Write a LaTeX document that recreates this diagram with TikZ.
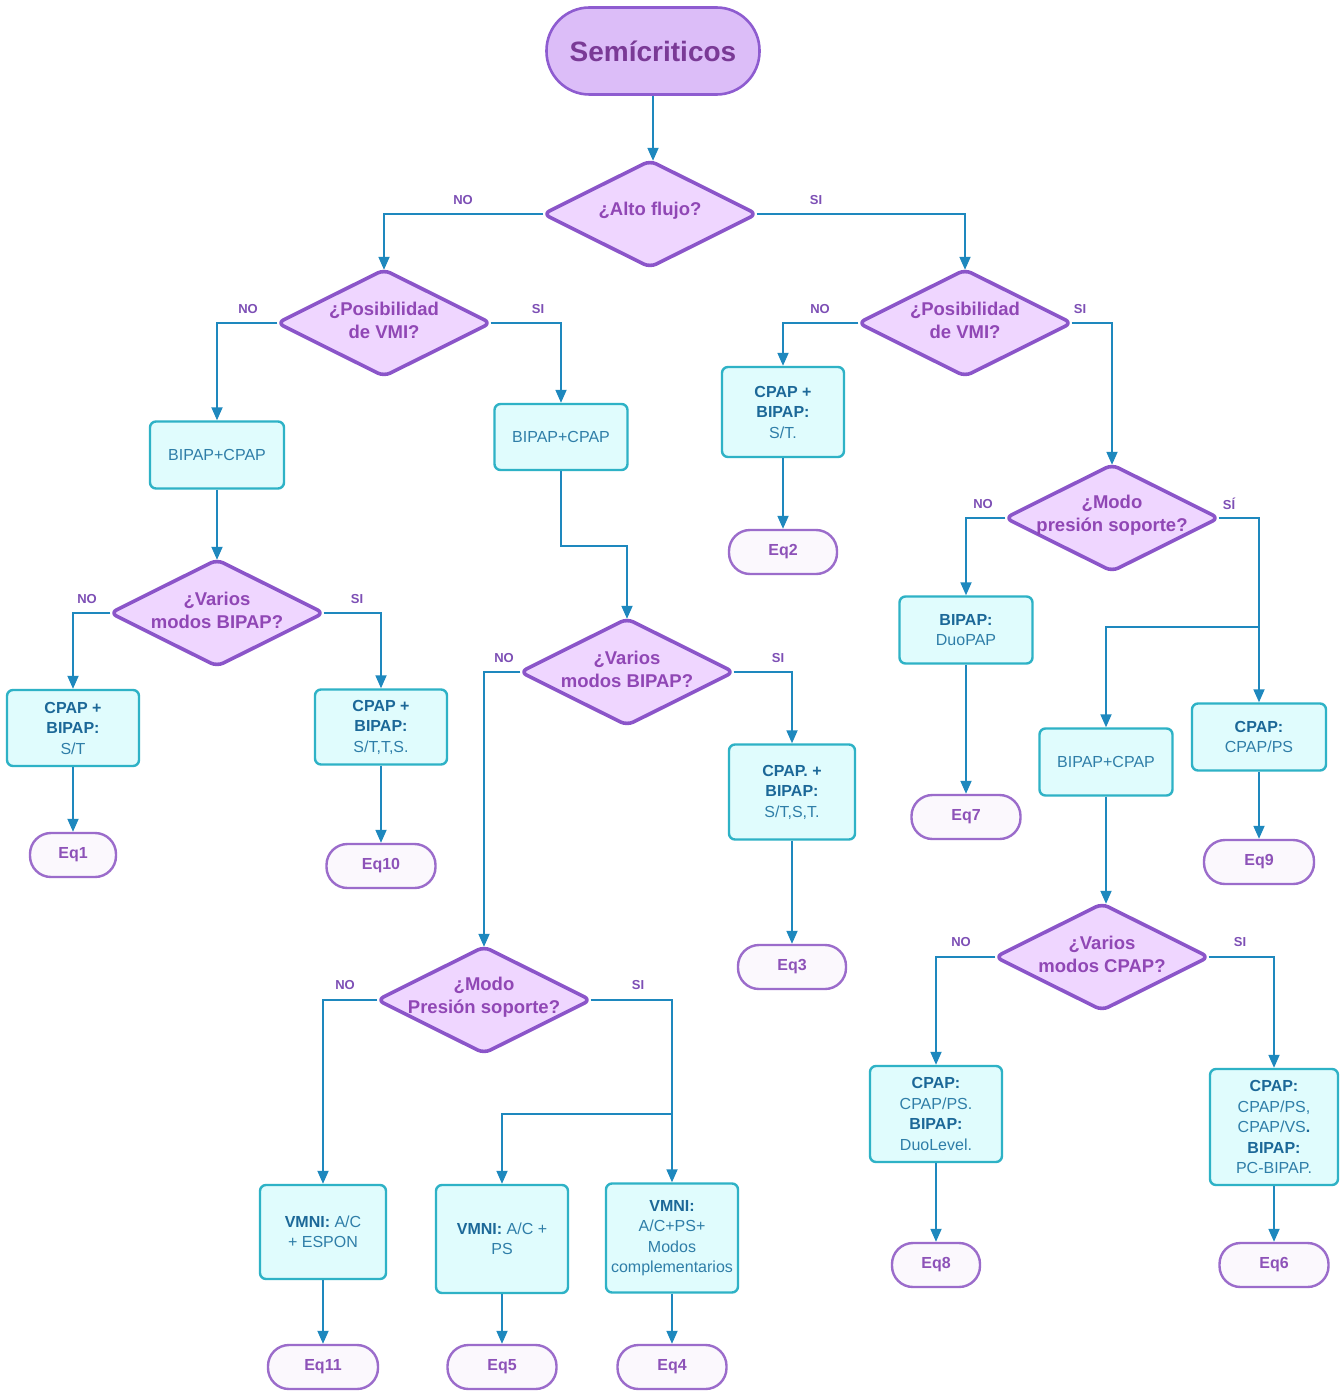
\documentclass[tikz,border=0pt]{standalone}
\usepackage{fontspec}
\setmainfont{Liberation Sans}
\usetikzlibrary{arrows.meta}
\pgfdeclarelayer{bg}
\pgfsetlayers{bg,main}

\definecolor{cLine}{HTML}{1E88BE}
\definecolor{cStartF}{HTML}{DCBDF8}
\definecolor{cStartB}{HTML}{8E5CD0}
\definecolor{cStartT}{HTML}{7A3A96}
\definecolor{cDiaF}{HTML}{EFD6FF}
\definecolor{cDiaB}{HTML}{8B55C9}
\definecolor{cDiaT}{HTML}{9047B5}
\definecolor{cBoxF}{HTML}{E0FCFD}
\definecolor{cBoxB}{HTML}{2EB2C6}
\definecolor{cBoxT}{HTML}{2F7EA8}
\definecolor{cBoxK}{HTML}{1C6898}
\definecolor{cEndF}{HTML}{FBF8FD}
\definecolor{cEndB}{HTML}{9B6CCB}
\definecolor{cEndT}{HTML}{8D52B8}
\definecolor{cLbl}{HTML}{7D4FB5}

% bold keyword inside a process box
\newcommand\kwd[1]{{\bfseries\color{cBoxK}#1}}

% decision: empty node sized like the diamond, diamond drawn behind, text set slightly high
\newcommand\decision[3]{%
  \node[dsize] (#1) at (#2) {};
  \node[dtext] (#1-t) at ([yshift=3pt]#1.center) {#3};
  \begin{pgfonlayer}{bg}
    \draw[dshape] (#1.north) -- (#1.east) -- (#1.south) -- (#1.west) -- cycle;
  \end{pgfonlayer}}

\begin{document}
\begin{tikzpicture}[x=1pt,y=-1pt,
  conn/.style={draw=cLine, line width=1.8pt, -{Triangle[length=13pt,width=11pt]}},
  startbox/.style={draw=cStartB, fill=cStartF, line width=2.6pt, rounded corners=43pt,
    minimum width=213pt, minimum height=87pt, text=cStartT,
    font=\bfseries\fontsize{28}{32}\selectfont},
  dsize/.style={rectangle, inner sep=0pt, minimum width=213pt, minimum height=106pt},
  dtext/.style={inner sep=0pt, align=center, text=cDiaT,
    font=\bfseries\fontsize{18.5}{23}\selectfont},
  dshape/.style={draw=cDiaB, fill=cDiaF, line width=3.6pt, rounded corners=7pt, line join=round},
  procbox/.style={draw=cBoxB, fill=cBoxF, line width=2.4pt, rounded corners=6pt,
    align=center, text=cBoxT, inner sep=1pt, font=\fontsize{16}{20.5}\selectfont},
  endbox/.style={draw=cEndB, fill=cEndF, line width=2.4pt, rounded corners=21pt,
    minimum height=44pt, text=cEndT, font=\bfseries\fontsize{16}{19}\selectfont},
  lbl/.style={text=cLbl, inner sep=0pt, font=\bfseries\fontsize{13}{15}\selectfont}]

\begin{pgfonlayer}{bg}
  \fill[white] (0,0) rectangle (1340,1391);
\end{pgfonlayer}
\useasboundingbox (0,0) rectangle (1340,1391);

% ---- start and decisions
\node[startbox] (start) at (653,51) {Semícriticos};
\decision{d1}{650,214}{¿Alto flujo?}
\decision{d2L}{384,323}{¿Posibilidad\\de VMI?}
\decision{d2R}{965,323}{¿Posibilidad\\de VMI?}
\decision{d3}{217,613}{¿Varios\\modos BIPAP?}
\decision{d4}{627,672}{¿Varios\\modos BIPAP?}
\decision{d5}{484,1000}{¿Modo\\Presión soporte?}
\decision{d6}{1112,518}{¿Modo\\presión soporte?}
\decision{d7}{1102,957}{¿Varios\\modos CPAP?}

% ---- process boxes
\node[procbox, minimum width=134pt, minimum height=67pt] (b1) at (217,455) {BIPAP+CPAP};
\node[procbox, minimum width=133pt, minimum height=66pt] (b2) at (561,437) {BIPAP+CPAP};
\node[procbox, minimum width=132pt, minimum height=76pt] (c1) at (73,728) {\kwd{CPAP +}\\\kwd{BIPAP:}\\S/T};
\node[procbox, minimum width=132pt, minimum height=75pt] (c2) at (381,727) {\kwd{CPAP +}\\\kwd{BIPAP:}\\S/T,T,S.};
\node[procbox, minimum width=126pt, minimum height=95pt] (c3) at (792,792) {\kwd{CPAP. +}\\\kwd{BIPAP:}\\S/T,S,T.};
\node[procbox, minimum width=122pt, minimum height=90pt] (r1) at (783,412) {\kwd{CPAP +}\\\kwd{BIPAP:}\\S/T.};
\node[procbox, minimum width=133pt, minimum height=67pt] (r2) at (966,630) {\kwd{BIPAP:}\\DuoPAP};
\node[procbox, minimum width=133pt, minimum height=67pt] (r3) at (1106,762) {BIPAP+CPAP};
\node[procbox, minimum width=134pt, minimum height=67pt] (r4) at (1259,737) {\kwd{CPAP:}\\CPAP/PS};
\node[procbox, minimum width=132pt, minimum height=96pt] (r5) at (936,1114) {\kwd{CPAP:}\\CPAP/PS.\\\kwd{BIPAP:}\\DuoLevel.};
\node[procbox, minimum width=128pt, minimum height=116pt] (r6) at (1274,1127) {\kwd{CPAP:}\\CPAP/PS,\\CPAP/VS\kwd{.}\\\kwd{BIPAP:}\\PC-BIPAP.};
\node[procbox, minimum width=126pt, minimum height=94pt] (v1) at (323,1232) {\kwd{VMNI:} A/C\\+ ESPON};
\node[procbox, minimum width=132pt, minimum height=108pt] (v2) at (502,1239) {\kwd{VMNI:} A/C +\\PS};
\node[procbox, minimum width=132pt, minimum height=109pt] (v3) at (672,1238) {\kwd{VMNI:}\\A/C+PS+\\Modos\\complementarios};

% ---- end terminals
\node[endbox, minimum width=86pt] (eq1) at (73,855) {Eq1};
\node[endbox, minimum width=109pt] (eq10) at (381,866) {Eq10};
\node[endbox, minimum width=108pt] (eq2) at (783,552) {Eq2};
\node[endbox, minimum width=108pt] (eq3) at (792,967) {Eq3};
\node[endbox, minimum width=109pt] (eq7) at (966,817) {Eq7};
\node[endbox, minimum width=110pt] (eq9) at (1259,862) {Eq9};
\node[endbox, minimum width=88pt] (eq8) at (936,1265) {Eq8};
\node[endbox, minimum width=109pt] (eq6) at (1274,1265) {Eq6};
\node[endbox, minimum width=110pt] (eq11) at (323,1367) {Eq11};
\node[endbox, minimum width=109pt] (eq5) at (502,1367) {Eq5};
\node[endbox, minimum width=109pt] (eq4) at (672,1367) {Eq4};

% ---- branch labels
\node[lbl] (l1n) at (463,200) {NO};
\node[lbl] (l1s) at (816,200) {SI};
\node[lbl] (l2n) at (248,309) {NO};
\node[lbl] (l2s) at (538,309) {SI};
\node[lbl] (l3n) at (820,309) {NO};
\node[lbl] (l3s) at (1080,309) {SI};
\node[lbl] (l4n) at (87,599) {NO};
\node[lbl] (l4s) at (357,599) {SI};
\node[lbl] (l5n) at (504,658) {NO};
\node[lbl] (l5s) at (778,658) {SI};
\node[lbl] (l6n) at (345,985) {NO};
\node[lbl] (l6s) at (638,985) {SI};
\node[lbl] (l7n) at (983,504) {NO};
\node[lbl] (l7s) at (1229,504) {SÍ};
\node[lbl] (l8n) at (961,942) {NO};
\node[lbl] (l8s) at (1240,942) {SI};

% ---- junctions of split branches
\coordinate (j5) at (672,1114);
\coordinate (j6) at (1259,627);

% ---- connectors
\draw[conn] (start.south) -- (start.south |- d1.north);
\draw[conn] (d1.west) -| (d2L.north);
\draw[conn] (d1.east) -| (d2R.north);
\draw[conn] (d2L.west) -| (b1.north);
\draw[conn] (d2L.east) -| (b2.north);
\draw[conn] (b1.south) -- (d3.north);
\draw[conn] (d3.west) -| (c1.north);
\draw[conn] (d3.east) -| (c2.north);
\draw[conn] (c1.south) -- (eq1.north);
\draw[conn] (c2.south) -- (eq10.north);
\draw[conn] (b2.south) -- ++(0,75) -| (d4.north);
\draw[conn] (d4.west) -| (d5.north);
\draw[conn] (d4.east) -| (c3.north);
\draw[conn] (c3.south) -- (eq3.north);
\draw[conn] (d5.west) -| (v1.north);
\draw[conn] (d5.east) -| (v3.north);
\draw[conn] (j5) -| (v2.north);
\draw[conn] (v1.south) -- (eq11.north);
\draw[conn] (v2.south) -- (eq5.north);
\draw[conn] (v3.south) -- (eq4.north);
\draw[conn] (d2R.west) -| (r1.north);
\draw[conn] (d2R.east) -| (d6.north);
\draw[conn] (r1.south) -- (eq2.north);
\draw[conn] (d6.west) -| (r2.north);
\draw[conn] (d6.east) -| (r4.north);
\draw[conn] (j6) -| (r3.north);
\draw[conn] (r2.south) -- (eq7.north);
\draw[conn] (r4.south) -- (eq9.north);
\draw[conn] (r3.south) -- (r3.south |- d7.north);
\draw[conn] (d7.west) -| (r5.north);
\draw[conn] (d7.east) -| (r6.north);
\draw[conn] (r5.south) -- (eq8.north);
\draw[conn] (r6.south) -- (eq6.north);
\end{tikzpicture}
\end{document}
